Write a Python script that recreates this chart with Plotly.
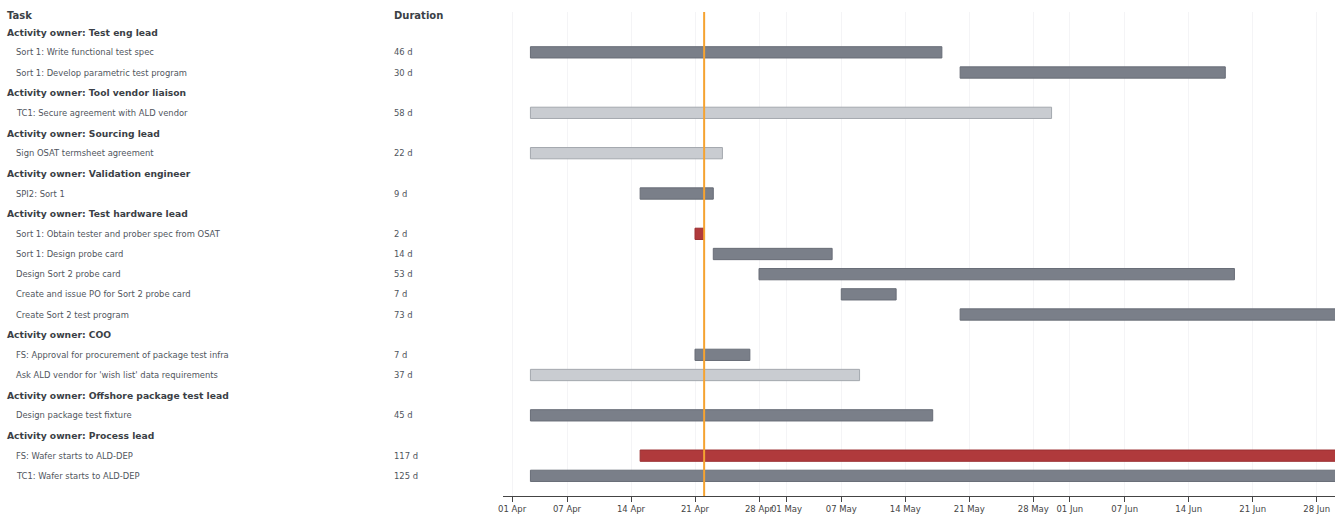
import plotly.graph_objects as go
import pandas as pd

# ---------------- data ----------------
owners = ["Test eng lead", "Tool vendor liaison", "Sourcing lead", "Validation engineer",
          "Test hardware lead", "COO", "Offshore package test lead", "Process lead"]

task_names = [
    "Sort 1: Write functional test spec",
    "Sort 1: Develop parametric test program",
    "TC1: Secure agreement with ALD vendor",
    "Sign OSAT termsheet agreement",
    "SPI2: Sort 1",
    "Sort 1: Obtain tester and prober spec from OSAT",
    "Sort 1: Design probe card",
    "Design Sort 2 probe card",
    "Create and issue PO for Sort 2 probe card",
    "Create Sort 2 test program",
    "FS: Approval for procurement of package test infra",
    "Ask ALD vendor for 'wish list' data requirements",
    "Design package test fixture",
    "FS: Wafer starts to ALD-DEP",
    "TC1: Wafer starts to ALD-DEP",
]
task_owner = ["Test eng lead", "Test eng lead", "Tool vendor liaison", "Sourcing lead",
              "Validation engineer", "Test hardware lead", "Test hardware lead",
              "Test hardware lead", "Test hardware lead", "Test hardware lead",
              "COO", "COO", "Offshore package test lead", "Process lead", "Process lead"]
task_start = ["2025-04-03", "2025-05-20", "2025-04-03", "2025-04-03", "2025-04-15",
              "2025-04-21", "2025-04-23", "2025-04-28", "2025-05-07", "2025-05-20",
              "2025-04-21", "2025-04-03", "2025-04-03", "2025-04-15", "2025-04-03"]
task_end = ["2025-05-18", "2025-06-18", "2025-05-30", "2025-04-24", "2025-04-23",
            "2025-04-22", "2025-05-06", "2025-06-19", "2025-05-13", "2025-07-31",
            "2025-04-27", "2025-05-09", "2025-05-17", "2025-08-09", "2025-08-05"]
task_duration = [46, 30, 58, 22, 9, 2, 14, 53, 7, 73, 7, 37, 45, 117, 125]
task_status = ["active", "active", "pending", "pending", "active",
               "critical", "active", "active", "active", "active",
               "active", "pending", "active", "critical", "active"]

today = "2025-04-22"
x_range = ["2025-03-31", "2025-06-30"]
tick_dates = ["2025-04-01", "2025-04-07", "2025-04-14", "2025-04-21", "2025-04-28",
              "2025-05-01", "2025-05-07", "2025-05-14", "2025-05-21", "2025-05-28",
              "2025-06-01", "2025-06-07", "2025-06-14", "2025-06-21", "2025-06-28"]

# ---------------- styles ----------------
status_style = {
    "active":   dict(fill="#7a7f89", line="#686d77"),
    "pending":  dict(fill="#c9ccd1", line="#a4a8ae"),
    "critical": dict(fill="#b03a3c", line="#9b3032"),
}
FONT = "DejaVu Sans"
HEAD_COLOR = "#3b3f46"
TASK_COLOR = "#50555d"

# ---------------- build row layout ----------------
rows = []  # (kind, label, task_index)
for o in owners:
    rows.append(("group", "Activity owner: " + o, None))
    for i, t in enumerate(task_names):
        if task_owner[i] == o:
            rows.append(("task", t, i))

task_row = {}
for r, (kind, label, idx) in enumerate(rows):
    if kind == "task":
        task_row[idx] = r

df = pd.DataFrame({
    "name": task_names,
    "start": pd.to_datetime(task_start),
    "end": pd.to_datetime(task_end),
    "status": task_status,
})
df["row"] = [task_row[i] for i in range(len(task_names))]
df["ms"] = (df["end"] - df["start"]).dt.total_seconds() * 1000

fig = go.Figure()
for st, sty in status_style.items():
    d = df[df["status"] == st]
    fig.add_trace(go.Bar(
        y=d["row"], x=d["ms"], base=d["start"].dt.strftime("%Y-%m-%d"),
        orientation="h", width=0.56,
        marker=dict(color=sty["fill"], line=dict(color=sty["line"], width=1)),
        name=st, showlegend=False, hoverinfo="skip",
    ))

n_rows = len(rows)
PW = 1343 - 8  # plot width in px (l=0, r=8)

X_GROUP = 5
X_TASK = 14
X_DUR = 392

annotations = []
annotations.append(dict(x=X_GROUP / PW, y=-1, xref="paper", yref="y", text="<b>Task</b>",
                        showarrow=False, xanchor="left", yanchor="middle", yshift=-3,
                        font=dict(family=FONT, size=10, color=HEAD_COLOR)))
annotations.append(dict(x=X_DUR / PW, y=-1, xref="paper", yref="y", text="<b>Duration</b>",
                        showarrow=False, xanchor="left", yanchor="middle", yshift=-3,
                        font=dict(family=FONT, size=10, color=HEAD_COLOR)))
for r, (kind, label, idx) in enumerate(rows):
    if kind == "group":
        annotations.append(dict(x=X_GROUP / PW, y=r, xref="paper", yref="y", text="<b>" + label + "</b>",
                                showarrow=False, xanchor="left", yanchor="middle",
                                font=dict(family=FONT, size=9.2, color=HEAD_COLOR)))
    else:
        annotations.append(dict(x=X_TASK / PW, y=r, xref="paper", yref="y", text=label,
                                showarrow=False, xanchor="left", yanchor="middle",
                                font=dict(family=FONT, size=8.4, color=TASK_COLOR)))
        annotations.append(dict(x=X_DUR / PW, y=r, xref="paper", yref="y",
                                text=f"{task_duration[idx]} d",
                                showarrow=False, xanchor="left", yanchor="middle",
                                font=dict(family=FONT, size=8.4, color=TASK_COLOR)))

fig.add_shape(type="line", x0=today, x1=today, y0=0, y1=1, xref="x", yref="paper",
              line=dict(color="#f5a331", width=2), layer="above")

fig.update_layout(
    width=1343, height=518,
    margin=dict(l=0, r=8, t=12, b=22, autoexpand=False),
    paper_bgcolor="white", plot_bgcolor="white",
    barmode="overlay",
    annotations=annotations,
    font=dict(family=FONT, size=10, color="#444"),
    xaxis=dict(
        type="date", range=x_range, domain=[503 / PW, 1],
        tickvals=tick_dates, tickformat="%d %b", tickangle=0,
        ticks="outside", ticklen=5, tickcolor="#444", tickwidth=1,
        showline=True, linecolor="#444", linewidth=1,
        showgrid=True, gridcolor="#f4f4f6", gridwidth=1,
        zeroline=False, automargin=False,
        tickfont=dict(family=FONT, size=8.5, color="#444"),
    ),
    yaxis=dict(
        range=[n_rows, -1], showticklabels=False, showgrid=False,
        zeroline=False, showline=False, automargin=False,
    ),
)

fig.write_html("out.html")
